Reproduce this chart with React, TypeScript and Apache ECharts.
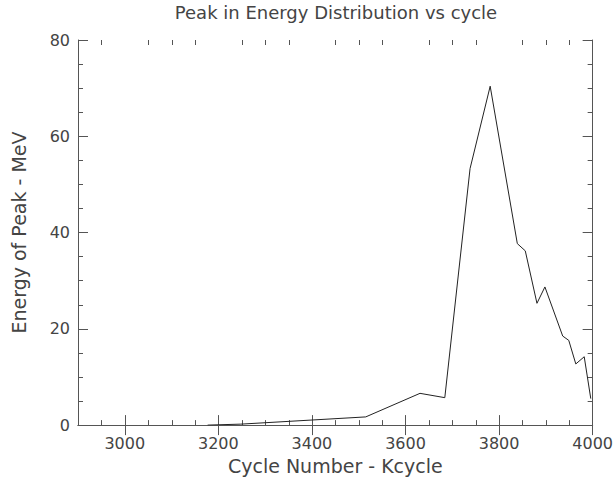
import React, { useEffect, useRef } from "react";
import * as echarts from "echarts";

// Peak energy (MeV) against cycle number (Kcycle)
const cycles = [3177, 3248, 3515, 3631, 3684, 3738, 3781, 3839, 3856, 3881, 3898, 3936, 3949, 3964, 3982, 3996];
const peakEnergy = [0, 0.2, 1.7, 6.6, 5.7, 53.3, 70.4, 37.7, 36.2, 25.3, 28.7, 18.5, 17.6, 12.7, 14.2, 5.5];

const xMajorTicks = [3000, 3200, 3400, 3600, 3800, 4000];
const xMinorTicks = [
  2950, 3050, 3100, 3150, 3250, 3300, 3350, 3450, 3500, 3550,
  3650, 3700, 3750, 3850, 3900, 3950,
];

const Y_MIN = 0;
const Y_MAX = 80;

const FONT = "DejaVu Sans";
const TEXT = "#444";
const AXIS = "#555";

export default function App() {
  const ref = useRef<HTMLDivElement>(null);

  useEffect(() => {
    if (!ref.current) return;
    const chart = echarts.init(ref.current, undefined, { renderer: "svg" });

    const xBase = { type: "value" as const, min: 2900, max: 4000, splitLine: { show: false } };
    const line = { show: true, lineStyle: { color: AXIS } };
    const majorTick = { show: true, inside: true, length: 10, lineStyle: { color: AXIS } };
    const tickStyle = { stroke: AXIS, lineWidth: 1 };

    chart.setOption({
      animation: false,
      backgroundColor: "#fff",
      grid: { left: 78, right: 22, top: 40, bottom: 50, containLabel: false },
      graphic: [
        {
          type: "text",
          x: 336,
          y: 12,
          style: {
            text: "Peak in Energy Distribution vs cycle",
            fontFamily: FONT,
            fontSize: 18,
            fill: TEXT,
            textAlign: "center",
            textVerticalAlign: "middle",
          },
        },
      ],
      xAxis: [
        {
          ...xBase,
          position: "bottom",
          axisLine: line,
          axisTick: { ...majorTick, customValues: xMajorTicks },
          axisLabel: {
            customValues: xMajorTicks,
            formatter: (v: number) => String(v),
            fontFamily: FONT,
            fontSize: 16,
            color: TEXT,
            margin: 10,
          },
          name: "Cycle Number - Kcycle",
          nameLocation: "middle",
          nameGap: 27,
          nameTextStyle: { fontFamily: FONT, fontSize: 19, color: TEXT },
        },
        {
          ...xBase,
          position: "top",
          axisLine: line,
          axisTick: { ...majorTick, customValues: xMajorTicks },
          axisLabel: { show: false },
        },
      ],
      yAxis: [
        {
          type: "value",
          min: Y_MIN,
          max: Y_MAX,
          interval: 20,
          position: "left",
          splitLine: { show: false },
          axisLine: line,
          axisTick: majorTick,
          minorTick: { show: true, splitNumber: 4, length: 5, lineStyle: { color: AXIS } },
          minorSplitLine: { show: false },
          axisLabel: { fontFamily: FONT, fontSize: 16, color: TEXT, margin: 8 },
          name: "Energy of Peak - MeV",
          nameLocation: "middle",
          nameGap: 50,
          nameRotate: 90,
          nameTextStyle: { fontFamily: FONT, fontSize: 19, color: TEXT },
        },
        {
          type: "value",
          min: Y_MIN,
          max: Y_MAX,
          interval: 20,
          position: "right",
          splitLine: { show: false },
          axisLine: line,
          axisTick: majorTick,
          minorTick: { show: true, splitNumber: 4, length: 5, lineStyle: { color: AXIS } },
          minorSplitLine: { show: false },
          axisLabel: { show: false },
        },
      ],
      series: [
        {
          // short inward ticks every 50 Kcycle on the bottom and top frame
          type: "custom",
          xAxisIndex: 0,
          yAxisIndex: 0,
          silent: true,
          clip: false,
          data: xMinorTicks.map((v) => [v, Y_MIN]),
          renderItem: (_params: any, api: any) => {
            const v = api.value(0);
            const b = api.coord([v, Y_MIN]);
            const t = api.coord([v, Y_MAX]);
            const x = Math.round(b[0]) + 0.5;
            return {
              type: "group",
              children: [
                { type: "line", shape: { x1: x, y1: b[1], x2: x, y2: b[1] - 5 }, style: tickStyle },
                { type: "line", shape: { x1: x, y1: t[1], x2: x, y2: t[1] + 5 }, style: tickStyle },
              ],
            };
          },
        },
        {
          type: "line",
          xAxisIndex: 0,
          yAxisIndex: 0,
          data: cycles.map((c, i) => [c, peakEnergy[i]]),
          showSymbol: false,
          lineStyle: { color: "#222", width: 1 },
        },
      ],
    });

    return () => chart.dispose();
  }, []);

  return (
    <div
      ref={ref}
      style={{ position: "fixed", left: 0, top: 0, width: 616, height: 480 }}
    />
  );
}
